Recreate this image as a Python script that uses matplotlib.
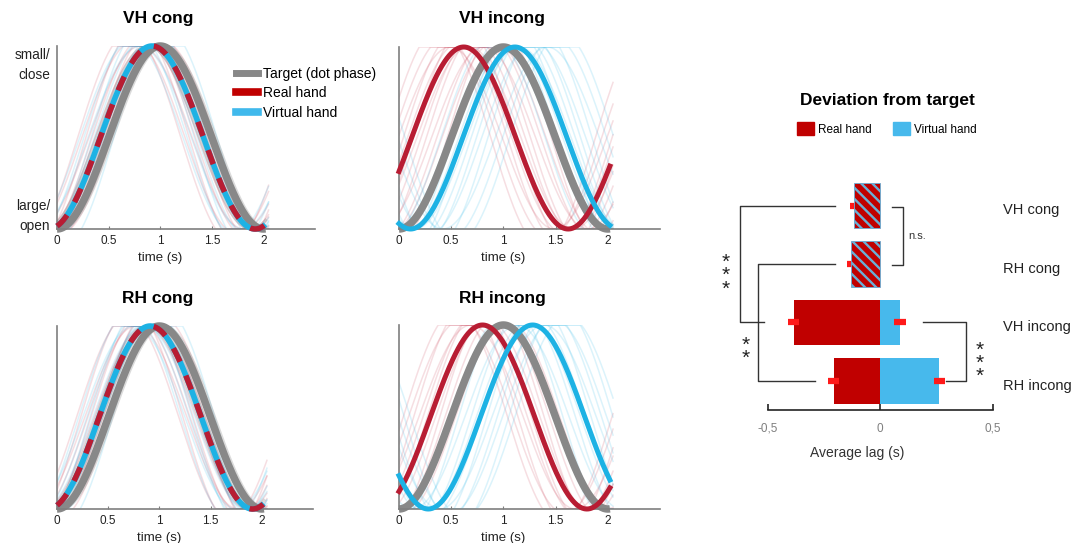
import numpy as np
import matplotlib
matplotlib.use("Agg")
import matplotlib.pyplot as plt
from matplotlib.lines import Line2D
from matplotlib.patches import Patch

plt.rcParams["font.family"] = ["Liberation Sans", "DejaVu Sans"]
plt.rcParams["hatch.linewidth"] = 1.7

# ---- colours
GRAY = "#888888"
RED = "#B81D33"
BLUE = "#1DB2E4"
RED_FAINT = "#C8374D"
BLUE_FAINT = "#3BBDEA"
BAR_RED = "#C00000"
BAR_BLUE = "#47B9EC"

# ---- left panels: phase lags (s), period 2 s
panel_names = ["VH cong", "VH incong", "RH cong", "RH incong"]
target_lag = [0.0, 0.0, 0.0, 0.0]
real_lag = [-0.08, -0.38, -0.09, -0.20]
virtual_lag = [-0.08, 0.11, -0.09, 0.28]

# single-trial lags and amplitudes (faint lines)
faint_real_lag = [
    [-0.30, -0.26, -0.22, -0.19, -0.16, -0.13, -0.10, -0.07, -0.04, -0.01, 0.03],
    [-0.62, -0.56, -0.51, -0.46, -0.42, -0.37, -0.33, -0.29, -0.24, -0.19, -0.14, -0.09, -0.04, 0.01],
    [-0.31, -0.27, -0.23, -0.2, -0.17, -0.14, -0.11, -0.08, -0.05, -0.02, 0.02],
    [-0.46, -0.41, -0.36, -0.31, -0.27, -0.23, -0.19, -0.15, -0.11, -0.06, -0.01, 0.04],
]
faint_real_amp = [
    [1.15, 1.05, 1.2, 1.0, 1.1, 1.0, 1.15, 1.05, 1.0, 1.1, 1.05],
    [1.2, 1.1, 1.0, 1.15, 1.05, 1.2, 1.0, 1.1, 1.15, 1.0, 1.1, 1.05, 1.2, 1.0],
    [1.1, 1.2, 1.0, 1.05, 1.15, 1.0, 1.1, 1.2, 1.05, 1.0, 1.1],
    [1.15, 1.05, 1.2, 1.0, 1.1, 1.15, 1.0, 1.05, 1.2, 1.1, 1.0, 1.05],
]
faint_virtual_lag = [
    [-0.28, -0.24, -0.2, -0.17, -0.14, -0.11, -0.08, -0.05, -0.02, 0.02, 0.05],
    [-0.10, -0.03, 0.02, 0.07, 0.11, 0.15, 0.19, 0.24, 0.29, 0.35, 0.42, 0.49, 0.56],
    [-0.29, -0.25, -0.21, -0.18, -0.15, -0.12, -0.09, -0.06, -0.03, 0.01, 0.04],
    [0.0, 0.07, 0.13, 0.19, 0.24, 0.29, 0.34, 0.39, 0.44, 0.49, 0.55, 0.61],
]
faint_virtual_amp = [
    [1.05, 1.15, 1.0, 1.2, 1.1, 1.0, 1.05, 1.15, 1.1, 1.0, 1.2],
    [1.1, 1.0, 1.15, 1.05, 1.2, 1.0, 1.1, 1.15, 1.05, 1.2, 1.0, 1.1, 1.15],
    [1.15, 1.0, 1.1, 1.2, 1.0, 1.05, 1.15, 1.0, 1.1, 1.05, 1.2],
    [1.1, 1.2, 1.0, 1.15, 1.05, 1.1, 1.2, 1.0, 1.15, 1.05, 1.2, 1.1],
]
faint_target_lag = [-0.12, -0.06, 0.04]

x_ticks = [0, 0.5, 1, 1.5, 2]
x_tick_labels = ["0", "0.5", "1", "1.5", "2"]

# ---- right panel: average lag (s)
conditions = ["VH cong", "RH cong", "VH incong", "RH incong"]
lag_real = [-0.117, -0.132, -0.385, -0.207]
lag_virtual = [-0.117, -0.132, 0.087, 0.262]
err_real = [0.016, 0.016, 0.025, 0.025]
err_virtual = [0.016, 0.016, 0.025, 0.025]
congruent = [True, True, False, False]
bar_ticks = [-0.5, 0, 0.5]
bar_tick_labels = ["-0,5", "0", "0,5"]


def phase_curve(t, lag, amp=1.0):
    return np.clip(0.5 - 0.5 * amp * np.cos(np.pi * (t - lag)), 0, 1)


W, H = 1079, 543
fig = plt.figure(figsize=(W / 100, H / 100), dpi=100)


def px_axes(left, right, top, bottom):
    return fig.add_axes([left / W, 1 - bottom / H, (right - left) / W, (bottom - top) / H])


panel_boxes = [
    (57, 315, 46, 229),
    (399, 660, 47, 229),
    (57, 313, 326, 509),
    (399, 660, 325, 509),
]
title_pos = [(158, 18), (502, 18), (158, 298), (502, 298)]

t_main = np.linspace(0, 2.02, 300)
t_faint = np.linspace(0, 2.05, 300)

for i, name in enumerate(panel_names):
    ax = px_axes(*panel_boxes[i])
    cong = "incong" not in name
    for lag, amp in zip(faint_real_lag[i], faint_real_amp[i]):
        ax.plot(t_faint, phase_curve(t_faint, lag, amp), color=RED_FAINT,
                alpha=0.16, lw=1.1, zorder=1)
    for lag, amp in zip(faint_virtual_lag[i], faint_virtual_amp[i]):
        ax.plot(t_faint, phase_curve(t_faint, lag, amp), color=BLUE_FAINT,
                alpha=0.18, lw=1.1, zorder=1)
    if cong:
        for lag in faint_target_lag:
            ax.plot(t_main, phase_curve(t_main, lag), color=GRAY, alpha=0.3,
                    lw=2.2, zorder=1.5)
    ax.plot(t_main, phase_curve(t_main, target_lag[i]), color=GRAY, lw=5.4,
            zorder=2, clip_on=False, solid_capstyle="butt")
    if cong:
        ax.plot(t_main, phase_curve(t_main, virtual_lag[i]), color=BLUE, lw=4,
                zorder=3, clip_on=False, solid_capstyle="butt")
        ax.plot(t_main, phase_curve(t_main, real_lag[i]), color=RED, lw=4,
                zorder=4, clip_on=False, dashes=(2.7, 2.7), dash_capstyle="butt")
    else:
        ax.plot(t_main, phase_curve(t_main, real_lag[i]), color=RED, lw=3.6,
                zorder=3, clip_on=False)
        ax.plot(t_main, phase_curve(t_main, virtual_lag[i]), color=BLUE, lw=3.6,
                zorder=4, clip_on=False)
    ax.set_xlim(0, 2.5)
    ax.set_ylim(0, 1)
    ax.set_xticks(x_ticks)
    ax.set_xticklabels(x_tick_labels)
    ax.set_yticks([])
    ax.tick_params(axis="x", direction="in", length=2, color="#7f7f7f",
                   labelsize=8.5, pad=4, labelcolor="#222222")
    for side in ("top", "right"):
        ax.spines[side].set_visible(False)
    for side in ("left", "bottom"):
        ax.spines[side].set_color("#7f7f7f")
        ax.spines[side].set_linewidth(1.2)
    ax.set_xlabel("time (s)", fontsize=9.5, color="#222222", labelpad=1)
    ax.xaxis.set_label_coords(1 / 2.5, -0.125)
    fig.text(title_pos[i][0] / W, 1 - title_pos[i][1] / H, name, ha="center",
             va="center", fontsize=12.5, fontweight="bold")

fig.text(50 / W, 1 - 65 / H, "small/\nclose", ha="right", va="center",
         fontsize=9.8, linespacing=1.5, color="#222222")
fig.text(50 / W, 1 - 216 / H, "large/\nopen", ha="right", va="center",
         fontsize=9.8, linespacing=1.5, color="#222222")

handles = [
    Line2D([], [], color=GRAY, lw=5),
    Line2D([], [], color="#C00000", lw=5.5),
    Line2D([], [], color="#40B9EC", lw=5.5),
]
fig.legend(handles, ["Target (dot phase)", "Real hand", "Virtual hand"],
           loc="upper left", bbox_to_anchor=(236 / W, 1 - 67 / H),
           frameon=False, fontsize=10, handlelength=1.6, handletextpad=0.35,
           labelspacing=0.38, borderpad=0, borderaxespad=0)

# ---- right panel
bx = px_axes(715, 1000, 170, 410)
y = np.arange(len(conditions))
bar_h = 0.786
for j in range(len(conditions)):
    if congruent[j]:
        bx.barh(y[j], lag_real[j], height=bar_h, color=BAR_RED,
                edgecolor="#6AAFD6", hatch="\\\\\\", lw=0.6, zorder=2)
        bx.errorbar(lag_real[j], y[j], xerr=err_real[j], fmt="none",
                    ecolor="#FF1A1A", elinewidth=4.5, capsize=0, zorder=1)
    else:
        bx.barh(y[j], lag_real[j], height=bar_h, color=BAR_RED, lw=0, zorder=2)
        bx.barh(y[j], lag_virtual[j], height=bar_h, color=BAR_BLUE, lw=0, zorder=2)
        bx.errorbar([lag_real[j], lag_virtual[j]], [y[j], y[j]],
                    xerr=[err_real[j], err_virtual[j]], fmt="none",
                    ecolor="#FF1A1A", elinewidth=4.5, capsize=0, zorder=3)

bx.set_xlim(-0.7347, 0.532)
bx.set_ylim(3.496, -0.607)
bx.set_yticks([])
bx.set_xticks(bar_ticks)
bx.set_xticklabels(bar_tick_labels)
bx.tick_params(axis="x", direction="in", length=4, width=1.2, color="#222222",
               labelsize=8.5, labelcolor="#7f7f7f", pad=9)
for side in ("top", "right", "left"):
    bx.spines[side].set_visible(False)
bx.spines["bottom"].set_bounds(-0.5, 0.5)
bx.spines["bottom"].set_linewidth(1.2)
bx.spines["bottom"].set_color("#222222")
bx.set_xlabel("Average lag (s)", fontsize=10, color="#333333", labelpad=8)

for j, name in enumerate(conditions):
    bx.text(0.544, y[j] + 0.08, name, ha="left", va="center", fontsize=10.5,
            color="#222222", clip_on=False)

# significance brackets
br = dict(color="#333333", lw=1, clip_on=False)
bx.plot([-0.2, -0.624, -0.624, -0.517], [0, 0, 2, 2], **br)
bx.plot([-0.2, -0.542, -0.542, -0.29], [1, 1, 3, 3], **br)
bx.plot([0.05, 0.1, 0.1, 0.05], [0.02, 0.02, 1.02, 1.02], **br)
bx.plot([0.188, 0.381, 0.381, 0.292], [2, 2, 3, 3], **br)
star = dict(ha="center", va="center", fontsize=15, linespacing=0.62,
            color="#222222", clip_on=False)
bx.text(-0.686, 1.2, "*\n*\n*", **star)
bx.text(-0.598, 2.5, "*\n*", **star)
bx.text(0.443, 2.7, "*\n*\n*", **star)
bx.text(0.125, 0.52, "n.s.", ha="left", va="center", fontsize=8,
        color="#333333", clip_on=False)

fig.text(887 / W, 1 - 100 / H, "Deviation from target", ha="center",
         va="center", fontsize=12.5, fontweight="bold")
fig.legend([Patch(color=BAR_RED), Patch(color=BAR_BLUE)],
           ["Real hand", "Virtual hand"], loc="center",
           bbox_to_anchor=(887 / W, 1 - 129 / H), ncol=2, frameon=False,
           fontsize=8.5, handlelength=1.4, handleheight=1.2,
           handletextpad=0.4, columnspacing=1.8, borderpad=0)

fig.savefig("out.png", dpi=100)
